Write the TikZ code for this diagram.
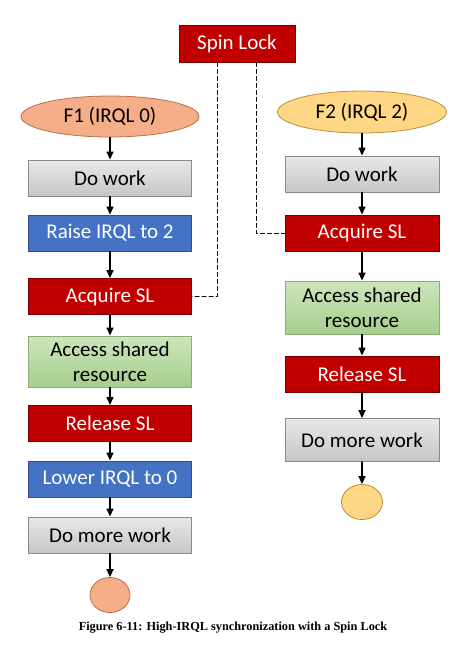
\documentclass[tikz,border=0pt]{standalone}
\usepackage{fontspec}
\setmainfont{Carlito}
\newfontfamily\capfont{Liberation Serif}
\usetikzlibrary{shapes.geometric,arrows.meta}
\definecolor{slred}{HTML}{C00000}\definecolor{slredline}{HTML}{7A0000}
\definecolor{irqblue}{HTML}{4472C4}\definecolor{irqblueline}{HTML}{2F4F8A}
\definecolor{grtop}{HTML}{E8E8E8}\definecolor{grbot}{HTML}{C6C6C6}\definecolor{grline}{HTML}{8A8A8A}
\definecolor{gntop}{HTML}{CDE5BD}\definecolor{gnbot}{HTML}{A6CF8C}\definecolor{gnline}{HTML}{8AAE74}
\definecolor{fone}{HTML}{F4AE88}\definecolor{foneline}{HTML}{B8704E}
\definecolor{ftwo}{HTML}{FFD685}\definecolor{ftwoline}{HTML}{B8913A}
\begin{document}
\begin{tikzpicture}[x=1pt,y=-1pt,line cap=round,
  box/.style={draw,line width=.9pt,minimum height=36pt,inner sep=0pt,align=center,font=\fontsize{21}{25}\selectfont},
  redbox/.style={box,fill=slred,draw=slredline,text=white},
  bluebox/.style={box,fill=irqblue,draw=irqblueline,text=white},
  graybox/.style={box,top color=grtop,bottom color=grbot,draw=grline},
  greenbox/.style={box,top color=gntop,bottom color=gnbot,draw=gnline,minimum height=52pt},
  fnode/.style={ellipse,draw,line width=.8pt,inner sep=0pt,font=\fontsize{21}{25}\selectfont},
  arr/.style={line width=1.4pt,-{Triangle[length=8pt,width=7pt]}},
  lockline/.style={dashed,dash pattern=on 4pt off 3pt,line width=.9pt}]
\useasboundingbox (0,0) rectangle (462,649);
% spin lock
\node[redbox,minimum width=116pt,minimum height=37pt] (sl) at (237,43.5) {Spin Lock};
% left column, F1
\node[fnode,fill=fone,draw=foneline,minimum width=178pt,minimum height=41pt] (f1) at (110,116.5) {F1 (IRQL 0)};
\node[graybox,minimum width=163pt] (ldo) at (110,178) {Do work};
\node[bluebox,minimum width=163pt] (lraise) at (110,233) {Raise IRQL to 2};
\node[redbox,minimum width=163pt] (lacq) at (110,296.5) {Acquire SL};
\node[greenbox,minimum width=163pt,minimum height=51pt] (lacc) at (110,361.5) {Access shared\\resource};
\node[redbox,minimum width=163pt] (lrel) at (110,423.5) {Release SL};
\node[bluebox,minimum width=163pt] (llow) at (110,479) {Lower IRQL to 0};
\node[graybox,minimum width=163pt] (lmore) at (110,535) {Do more work};
\node[ellipse,draw=foneline,fill=fone,line width=.8pt,minimum width=40pt,minimum height=35pt] (lend) at (110,595) {};
% right column, F2
\node[fnode,fill=ftwo,draw=ftwoline,minimum width=169pt,minimum height=42pt] (f2) at (362,112) {F2 (IRQL 2)};
\node[graybox,minimum width=154pt] (rdo) at (362,174) {Do work};
\node[redbox,minimum width=154pt] (racq) at (362,233) {Acquire SL};
\node[greenbox,minimum width=154pt,minimum height=53pt] (racc) at (362,307.5) {Access shared\\resource};
\node[redbox,minimum width=154pt] (rrel) at (362,374) {Release SL};
\node[graybox,minimum width=154pt,minimum height=43pt] (rmore) at (362,440) {Do more work};
\node[ellipse,draw=ftwoline,fill=ftwo,line width=.8pt,minimum width=41pt,minimum height=35pt] (rend) at (362,502) {};
% flow
\foreach\a/\b in {f1/ldo,ldo/lraise,lraise/lacq,lacq/lacc,lacc/lrel,lrel/llow,llow/lmore,lmore/lend,f2/rdo,rdo/racq,racq/racc,racc/rrel,rrel/rmore,rmore/rend}\draw[arr](\a)--(\b);
% lock links
\draw[lockline] (sl.south)++(-20,0) |- (lacq.east);
\draw[lockline] (sl.south)++(19,0) |- (racq.west);
% caption
\node (cap) at (233,628) {\capfont\bfseries\fontsize{12.3}{15}\selectfont Figure 6-11: High-IRQL synchronization with a Spin Lock};
\end{tikzpicture}
\end{document}
